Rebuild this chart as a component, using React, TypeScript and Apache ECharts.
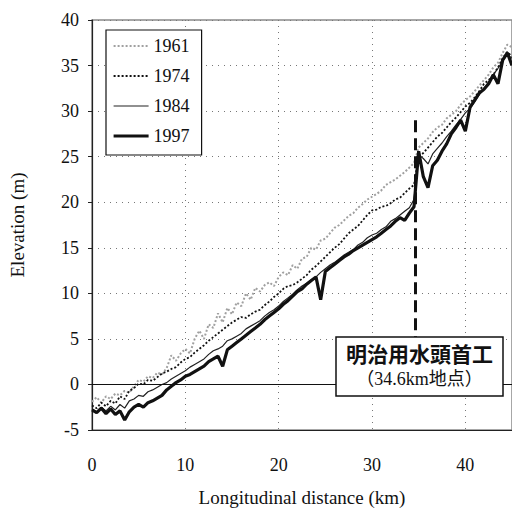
import React, { useEffect, useRef } from "react";
import * as echarts from "echarts";

const distances = [0,0.5,1,1.5,2,2.5,3,3.5,4,4.5,5,5.5,6,6.5,7,7.5,8,8.5,9,9.5,10,10.5,11,11.5,12,12.5,13,13.5,14,14.5,15,15.5,16,16.5,17,17.5,18,18.5,19,19.5,20,20.5,21,21.5,22,22.5,23,23.5,24,24.5,25,25.5,26,26.5,27,27.5,28,28.5,29,29.5,30,30.5,31,31.5,32,32.5,33,33.5,34,34.5,35,35.5,36,36.5,37,37.5,38,38.5,39,39.5,40,40.5,41,41.5,42,42.5,43,43.5,44,44.5,45];

const elev1961 = [
  -1.9,-1.4,-2.0,-1.3,-1.6,-1.0,-1.2,-0.7,-0.9,-0.2,
  0.5,0.3,0.9,0.7,1.3,1.1,1.8,3.2,2.6,3.4,
  3.9,3.4,5.0,5.9,5.0,6.6,6.2,7.8,6.8,8.4,
  7.7,9.0,8.6,10.0,9.3,10.6,10.2,10.9,11.2,10.8,
  11.8,12.3,12.0,13.1,12.7,13.8,14.0,15.0,14.8,15.8,
  16.0,16.6,17.2,17.5,18.0,18.5,18.8,19.4,19.8,20.3,
  20.6,20.9,21.3,21.9,22.2,22.5,22.9,23.3,23.8,24.3,
  26.0,26.5,27.0,27.7,28.2,28.5,29.2,29.6,30.0,30.7,
  31.2,31.6,32.2,32.8,33.4,34.0,34.8,35.3,36.4,37.3,
  37.0
];

const elev1974 = [
  -2.3,-2.6,-2.0,-2.4,-1.8,-2.1,-1.3,-1.6,-0.7,-0.4,
  0.1,0.0,0.5,0.4,0.8,1.2,1.4,1.7,1.9,2.4,
  2.8,3.0,3.5,3.9,4.3,4.8,5.2,5.6,6.0,6.4,
  6.8,7.1,7.4,7.3,7.7,8.0,8.2,8.7,9.1,9.6,
  10.0,10.5,10.8,10.9,11.2,11.6,12.0,12.6,13.0,13.5,
  14.0,14.5,15.0,15.4,16.0,16.6,17.0,17.4,18.0,18.6,
  19.1,19.2,19.5,19.6,19.9,20.3,20.5,21.0,21.5,21.9,
  25.0,25.4,26.0,26.6,27.2,27.6,28.2,28.8,29.3,29.9,
  30.5,30.9,31.5,32.2,33.0,33.4,34.0,34.8,35.8,36.5,
  36.0
];

const elev1984 = [
  -2.7,-3.0,-2.5,-2.9,-2.4,-2.8,-2.2,-2.6,-1.8,-1.6,
  -1.2,-1.3,-0.8,-0.6,-0.3,0.0,0.2,0.6,0.9,1.2,
  1.5,1.9,2.2,2.5,2.8,3.3,3.7,3.9,4.2,4.8,
  5.0,5.3,5.6,6.1,6.4,6.7,7.0,7.5,7.9,8.2,
  8.6,9.1,9.5,9.9,10.4,10.8,11.1,11.5,11.8,12.3,
  12.7,13.1,13.4,13.8,14.2,14.5,14.8,15.3,15.6,16.1,
  16.4,16.6,17.0,17.3,17.9,18.2,18.6,19.0,19.4,20.3,
  25.2,24.8,24.2,25.3,25.9,26.5,27.2,27.8,28.5,29.1,
  29.8,30.3,31.0,31.8,32.5,33.2,34.0,34.7,35.5,36.2,
  35.8
];

const elev1997 = [
  -2.8,-3.1,-2.6,-3.2,-2.7,-3.3,-2.9,-3.9,-3.0,-2.5,
  -2.2,-2.5,-2.0,-1.8,-1.5,-1.2,-0.6,-0.2,0.2,0.5,
  0.9,1.1,1.4,1.7,2.0,2.5,2.8,3.1,2.0,3.8,
  4.2,4.6,5.0,5.4,5.8,6.2,6.6,7.1,7.5,7.9,
  8.3,8.8,9.2,9.7,10.2,10.5,11.0,11.4,11.8,9.3,
  12.4,12.8,13.2,13.6,14.0,14.3,14.7,15.0,15.3,15.6,
  15.9,16.2,16.6,17.0,17.4,17.9,18.3,18.0,18.8,19.5,
  25.6,22.8,21.6,24.0,24.6,25.6,26.4,27.5,28.2,29.0,
  27.8,30.4,31.2,32.0,32.4,33.0,34.0,33.0,35.6,36.4,
  35.0
];

const years = ["1961", "1974", "1984", "1997"];
const weirName = "明治用水頭首工";
const weirLabel = "（34.6km地点）";
const weirKm = 34.6;
const weirLineRange = [5, 29];

const SERIF = "'Liberation Serif', 'DejaVu Serif', serif";

function pairs(ys: number[]) {
  return ys.map((y, i) => [distances[i], y]);
}

export default function App() {
  const ref = useRef<HTMLDivElement>(null);
  useEffect(() => {
    if (!ref.current) return;
    const chart = echarts.init(ref.current, undefined, { renderer: "svg" });
    const styles = [
      { color: "#a0a0a0", width: 2, type: [2, 2] },
      { color: "#111", width: 1.8, type: [2, 2] },
      { color: "#222", width: 1.2, type: "solid" },
      { color: "#111", width: 3.2, type: "solid" },
    ];
    const dataSets = [elev1961, elev1974, elev1984, elev1997];
    const series: any[] = years.map((yr, i) => ({
      name: yr,
      type: "line",
      data: pairs(dataSets[i]),
      showSymbol: false,
      symbol: "none",
      color: styles[i].color,
      lineStyle: { color: styles[i].color, width: styles[i].width, type: styles[i].type },
      z: 2 + i,
    }));
    series[0].markLine = {
      silent: true,
      symbol: "none",
      label: { show: false },
      lineStyle: { color: "#111", width: 1, type: "solid" },
      data: [{ yAxis: 0 }],
    };
    series[3].markLine = {
      silent: true,
      symbol: "none",
      label: { show: false },
      lineStyle: { color: "#111", width: 3, type: [12, 6] },
      data: [[{ coord: [weirKm, weirLineRange[1]] }, { coord: [weirKm, weirLineRange[0]] }]],
    };
    chart.setOption({
      animation: false,
      backgroundColor: "#fff",
      grid: { left: 89, right: 0, top: 20, bottom: 83, show: true, borderColor: "#8a8a8a", borderWidth: 1.5 },
      xAxis: {
        type: "value",
        min: 0,
        max: 45,
        interval: 10,
        name: "Longitudinal distance (km)",
        nameLocation: "middle",
        nameGap: 58,
        nameTextStyle: { fontFamily: SERIF, fontSize: 19, color: "#111" },
        axisLine: { onZero: false, lineStyle: { color: "#222", width: 1.2 } },
        axisTick: { show: false },
        axisLabel: { margin: 26, fontFamily: SERIF, fontSize: 18, color: "#111", showMaxLabel: false },
        splitLine: { show: true, lineStyle: { color: "#777", type: [1, 5], width: 1 } },
      },
      yAxis: {
        type: "value",
        min: -5,
        max: 40,
        interval: 5,
        name: "Elevation (m)",
        nameLocation: "middle",
        nameGap: 65,
        nameTextStyle: { fontFamily: SERIF, fontSize: 19, color: "#111" },
        axisLine: { show: true, lineStyle: { color: "#222", width: 1.2 } },
        axisTick: { show: true, length: 4, lineStyle: { color: "#222" } },
        axisLabel: { margin: 13, fontFamily: SERIF, fontSize: 18, color: "#111" },
        splitLine: { show: true, lineStyle: { color: "#777", type: [1, 5], width: 1 } },
      },
      legend: {
        orient: "vertical",
        left: 106,
        top: 30,
        itemWidth: 35,
        itemHeight: 12,
        itemGap: 12,
        padding: [7, 12, 10, 6],
        borderColor: "#111",
        borderWidth: 1.2,
        backgroundColor: "#fff",
        itemStyle: { opacity: 0, color: "transparent", borderWidth: 0 },
        textStyle: { fontFamily: SERIF, fontSize: 18, color: "#111" },
        data: years.map((yr, i) => ({
          name: yr,
          itemStyle: { opacity: 0, color: "transparent", borderWidth: 0 },
          lineStyle: { color: styles[i].color, width: styles[i].width, type: styles[i].type },
        })),
      },
      graphic: [
        {
          type: "rect",
          z: 100,
          shape: { x: 336, y: 337, width: 167, height: 59 },
          style: { fill: "#fff", stroke: "#111", lineWidth: 1.5 },
        },
        {
          type: "text",
          z: 101,
          x: 419.5,
          y: 353,
          style: {
            text: weirName,
            fontFamily: "'Noto Sans CJK JP'",
            fontWeight: "bold",
            fontSize: 21,
            fill: "#111",
            align: "center",
            verticalAlign: "middle",
          },
        },
        {
          type: "text",
          z: 101,
          x: 419.5,
          y: 379,
          style: {
            text: weirLabel,
            fontFamily: "'Liberation Serif', 'Noto Sans CJK JP'",
            fontSize: 18,
            fill: "#111",
            align: "center",
            verticalAlign: "middle",
          },
        },
      ],
      series,
    });
    return () => chart.dispose();
  }, []);
  return <div ref={ref} style={{ width: 512, height: 513, position: "absolute", left: 0, top: 0 }} />;
}
